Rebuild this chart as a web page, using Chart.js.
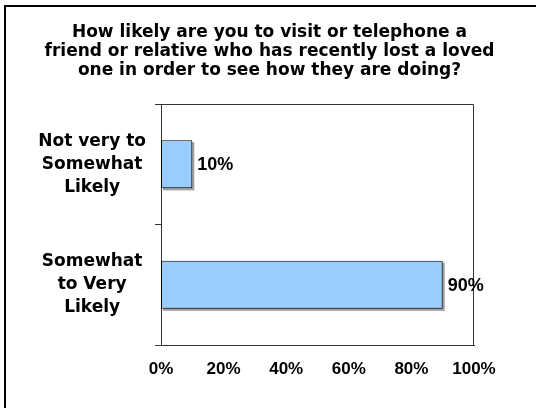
<!DOCTYPE html>
<html>
<head>
<meta charset="utf-8">
<script src="https://cdn.jsdelivr.net/npm/chart.js@4/dist/chart.umd.min.js"></script>
<style>
  html, body { margin: 0; padding: 0; background: #fff; }
  canvas { display: block; }
</style>
</head>
<body>
<canvas id="chart" width="536" height="408"></canvas>
<script>
// Survey question and answers
const titleLines = [
  'How likely are you to visit or telephone a',
  'friend or relative who has recently lost a loved',
  'one in order to see how they are doing?'
];
const categories = [
  ['Not very to', 'Somewhat', 'Likely'],
  ['Somewhat', 'to Very', 'Likely']
];
const percentValues = [10, 90];
const xTickValues = [0, 20, 40, 60, 80, 100];

const GOTHIC = '"DejaVu Sans", sans-serif';
const ARIAL = '"Liberation Sans", Arial, sans-serif';
const AXIS_COLOR = '#333333';

// Frame lines along the top and left edge of the picture
const framePlugin = {
  id: 'frame',
  afterDraw(chart) {
    const ctx = chart.ctx;
    ctx.save();
    ctx.fillStyle = '#000';
    ctx.fillRect(4, 5, 2, chart.height - 5);
    ctx.fillRect(4, 5, chart.width - 4, 2);
    ctx.restore();
  }
};

// Plot-area outline on the top and right sides
const plotBoxPlugin = {
  id: 'plotBox',
  beforeDatasetsDraw(chart) {
    const { ctx, chartArea: a } = chart;
    ctx.save();
    ctx.strokeStyle = AXIS_COLOR;
    ctx.lineWidth = 1;
    ctx.beginPath();
    ctx.moveTo(a.left, a.top + 0.5);
    ctx.lineTo(a.right - 0.5, a.top + 0.5);
    ctx.lineTo(a.right - 0.5, a.bottom);
    ctx.stroke();
    ctx.restore();
  }
};

// Grey drop shadow behind each bar
const barShadowPlugin = {
  id: 'barShadow',
  beforeDatasetsDraw(chart) {
    const ctx = chart.ctx;
    ctx.save();
    ctx.fillStyle = '#a0a0a0';
    chart.getDatasetMeta(0).data.forEach(bar => {
      const left = Math.min(bar.base, bar.x);
      const w = Math.abs(bar.x - bar.base);
      ctx.fillRect(left + 2, bar.y - bar.height / 2 + 2, w, bar.height);
    });
    ctx.restore();
  }
};

// Percentage label at the end of each bar
const valueLabelPlugin = {
  id: 'valueLabels',
  afterDatasetsDraw(chart) {
    const ctx = chart.ctx;
    const ds = chart.data.datasets[0];
    ctx.save();
    ctx.fillStyle = '#000';
    ctx.font = 'bold 18px ' + ARIAL;
    ctx.textAlign = 'left';
    ctx.textBaseline = 'middle';
    chart.getDatasetMeta(0).data.forEach((bar, i) => {
      ctx.fillText(ds.data[i] + '%', bar.x + 5, bar.y + 1);
    });
    ctx.restore();
  }
};

new Chart(document.getElementById('chart'), {
  type: 'bar',
  data: {
    labels: categories,
    datasets: [{
      data: percentValues,
      backgroundColor: '#99ccff',
      borderColor: '#000000',
      borderWidth: 1,
      borderSkipped: false,
      categoryPercentage: 1,
      barPercentage: 0.4
    }]
  },
  options: {
    indexAxis: 'y',
    responsive: false,
    animation: false,
    layout: { padding: { left: 3, right: 0, top: 0, bottom: 0 } },
    plugins: {
      legend: { display: false },
      tooltip: { enabled: false },
      title: {
        display: true,
        text: titleLines,
        color: '#000',
        font: { family: GOTHIC, size: 17, weight: 'bold', lineHeight: 19 / 17 },
        padding: { top: 23, bottom: 24 }
      }
    },
    scales: {
      x: {
        min: 0,
        max: 100,
        afterBuildTicks(scale) {
          scale.ticks = xTickValues.map(v => ({ value: v }));
        },
        afterFit(scale) {
          scale.height = 63;
          scale.paddingLeft = 0;
          scale.paddingRight = 62;
        },
        grid: { display: false },
        border: { display: true, color: AXIS_COLOR, width: 1 },
        ticks: {
          color: '#000',
          padding: 6,
          maxRotation: 0,
          font: { family: ARIAL, size: 17, weight: 'bold' },
          callback: v => v + '%'
        }
      },
      y: {
        offset: true,
        afterFit(scale) {
          scale.width = 158;
          scale.paddingTop = 0;
          scale.paddingBottom = 0;
        },
        grid: {
          display: true,
          drawOnChartArea: false,
          drawTicks: true,
          tickLength: 6,
          color: AXIS_COLOR
        },
        border: { display: true, color: AXIS_COLOR, width: 1 },
        ticks: {
          color: '#000',
          crossAlign: 'center',
          padding: 9,
          font: { family: GOTHIC, size: 17, weight: 'bold', lineHeight: 23 / 17 }
        }
      }
    }
  },
  plugins: [barShadowPlugin, plotBoxPlugin, valueLabelPlugin, framePlugin]
});
</script>
</body>
</html>
